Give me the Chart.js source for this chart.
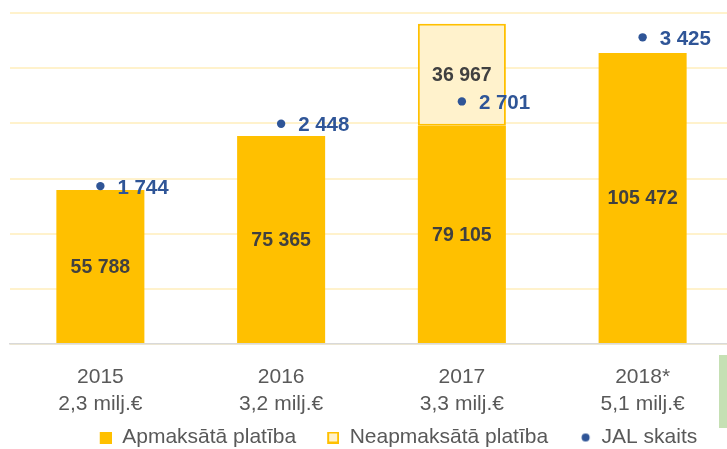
<!DOCTYPE html>
<html>
<head>
<meta charset="utf-8">
<script src="https://cdn.jsdelivr.net/npm/chart.js@4.4.1/dist/chart.umd.min.js"></script>
<style>
  html, body { margin: 0; padding: 0; background: #fff; }
  #wrap { position: relative; width: 727px; height: 449px; overflow: hidden; }
  #chart { position: absolute; left: 0; top: 0; }
  #side-box { position: absolute; left: 719px; top: 355px; width: 8px; height: 73px; background: #c5e0b4; }
</style>
</head>
<body>
<div id="wrap">
  <canvas id="chart" width="774" height="458"></canvas>
  <div id="side-box"></div>
</div>
<script>
const years = ["2015", "2016", "2017", "2018*"];
const budgets = ["2,3 milj.€", "3,2 milj.€", "3,3 milj.€", "5,1 milj.€"];
const paidArea = [55788, 75365, 79105, 105472];
const unpaidArea = [null, null, 36967, null];
const jalCount = [1744, 2448, 2701, 3425];
const areaMax = 120000;
const areaStep = 20000;

const textGrey = "#595959";
const blue = "#2f5597";
const gold = "#ffc000";
const paleGold = "#fff2cc";

Chart.defaults.font.family = "'Liberation Sans', Arial, sans-serif";

function formatNumber(value) {
  return String(value).replace(/\B(?=(\d{3})+(?!\d))/g, " ");
}

// legend markers sit at the right end of a wider box, so the gap before them
// stays wide while the legend padding stays small
function legendMarker(draw) {
  const c = document.createElement("canvas");
  c.width = 35;
  c.height = 12;
  draw(c.getContext("2d"));
  return c;
}

const markers = [
  legendMarker((ctx) => {
    ctx.fillStyle = gold;
    ctx.fillRect(23, 0, 12, 12);
  }),
  legendMarker((ctx) => {
    ctx.fillStyle = paleGold;
    ctx.fillRect(23, 0, 12, 12);
    ctx.strokeStyle = gold;
    ctx.lineWidth = 2;
    ctx.strokeRect(24, 1, 10, 10);
  }),
  legendMarker((ctx) => {
    ctx.fillStyle = blue;
    ctx.beginPath();
    ctx.arc(29.5, 6, 4, 0, Math.PI * 2);
    ctx.fill();
  })
];

const valueLabels = {
  id: "valueLabels",
  afterDatasetsDraw(chart) {
    const ctx = chart.ctx;
    ctx.save();
    ctx.textBaseline = "middle";
    chart.data.datasets.forEach((dataset, i) => {
      const meta = chart.getDatasetMeta(i);
      meta.data.forEach((el, j) => {
        const value = dataset.data[j];
        if (value == null) {
          return;
        }
        if (meta.type === "bar") {
          const { x, y, base } = el.getProps(["x", "y", "base"], true);
          ctx.font = "bold 19.5px 'Liberation Sans', Arial, sans-serif";
          ctx.fillStyle = "#404040";
          ctx.textAlign = "center";
          ctx.fillText(formatNumber(value), x, (y + base) / 2 + 1);
        } else {
          const { x, y } = el.getProps(["x", "y"], true);
          ctx.font = "bold 20.5px 'Liberation Sans', Arial, sans-serif";
          ctx.fillStyle = blue;
          ctx.textAlign = "left";
          ctx.fillText(formatNumber(value), x + 17, y + 2);
        }
      });
    });
    ctx.restore();
  }
};

const ctx = document.getElementById("chart").getContext("2d");

new Chart(ctx, {
  type: "bar",
  data: {
    labels: years.map((year, i) => [year, budgets[i]]),
    datasets: [
      {
        label: "Apmaksātā platība",
        data: paidArea,
        backgroundColor: gold,
        borderWidth: 0,
        order: 1,
        yAxisID: "y"
      },
      {
        label: "Neapmaksātā platība",
        data: unpaidArea,
        backgroundColor: paleGold,
        borderColor: gold,
        borderWidth: 2,
        borderSkipped: false,
        order: 1,
        yAxisID: "y"
      },
      {
        type: "line",
        label: "JAL skaits",
        data: jalCount,
        showLine: false,
        pointRadius: 4.2,
        pointHoverRadius: 4.2,
        pointBackgroundColor: blue,
        pointBorderWidth: 0,
        order: 0,
        yAxisID: "y2"
      }
    ]
  },
  options: {
    responsive: false,
    animation: false,
    devicePixelRatio: 1,
    layout: {
      padding: { top: 13, left: 0, right: 0, bottom: 0 }
    },
    datasets: {
      bar: {
        categoryPercentage: 1,
        barPercentage: 0.487
      }
    },
    plugins: {
      tooltip: { enabled: false },
      legend: {
        position: "bottom",
        labels: {
          color: textGrey,
          font: { size: 21 },
          padding: 8,
          boxHeight: 12,
          usePointStyle: true,
          pointStyleWidth: 35,
          generateLabels(chart) {
            return chart.data.datasets.map((dataset, i) => ({
              text: dataset.label,
              datasetIndex: i,
              pointStyle: markers[i],
              fontColor: textGrey,
              hidden: false
            }));
          }
        }
      }
    },
    scales: {
      x: {
        stacked: true,
        grid: { display: false, drawTicks: false },
        border: { display: true, color: "#d9d9d9", width: 1.5 },
        ticks: {
          color: textGrey,
          font: { size: 21, lineHeight: 1.25 },
          padding: 20.5,
          maxRotation: 0,
          autoSkip: false
        },
        afterFit(scale) {
          scale.height = 75;
        }
      },
      y: {
        stacked: true,
        position: "left",
        min: 0,
        max: areaMax,
        ticks: { display: false, stepSize: areaStep },
        grid: { color: "#fff2cc", lineWidth: 2, drawTicks: false },
        border: { display: false },
        afterFit(scale) {
          scale.width = 10;
        }
      },
      y2: {
        position: "right",
        min: -40,
        max: 3700,
        ticks: { display: false },
        grid: { display: false, drawTicks: false },
        border: { display: false },
        afterFit(scale) {
          scale.width = 41;
        }
      }
    }
  },
  plugins: [valueLabels]
});
</script>
</body>
</html>
